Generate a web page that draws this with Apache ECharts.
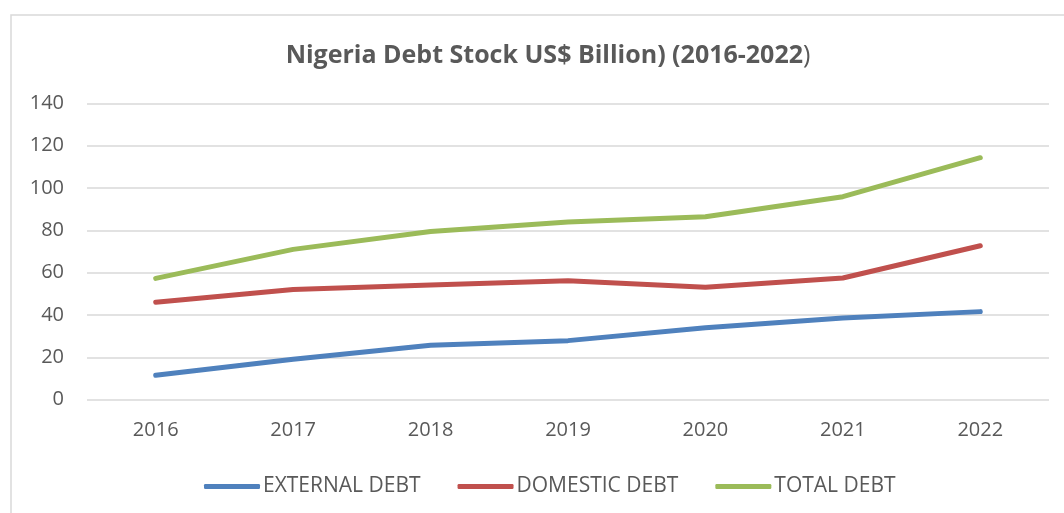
<!DOCTYPE html>
<html>
<head>
<meta charset="utf-8">
<script src="https://cdn.jsdelivr.net/npm/echarts@6/dist/echarts.min.js"></script>
<style>
  html, body { margin: 0; padding: 0; background: #fff; }
  #chart { width: 1064px; height: 513px; }
</style>
</head>
<body>
<div id="chart"></div>
<script>
// Nigeria debt stock, US$ billion
const years = ['2016', '2017', '2018', '2019', '2020', '2021', '2022'];
const externalDebt = [11.5, 19.1, 25.7, 27.9, 34.0, 38.6, 41.6];
const domesticDebt = [46.0, 52.1, 54.2, 56.2, 53.1, 57.5, 72.7];
const totalDebt = [57.3, 71.0, 79.4, 83.9, 86.4, 95.9, 114.3];
const yTicks = [0, 20, 40, 60, 80, 100, 120, 140];

const seriesNames = ['EXTERNAL DEBT', 'DOMESTIC DEBT', 'TOTAL DEBT'];
const seriesColors = ['#4f81bd', '#c0504d', '#9bbb59'];
const seriesData = [externalDebt, domesticDebt, totalDebt];

const font = '"Open Sans", "Noto Sans", sans-serif';
const chart = echarts.init(document.getElementById('chart'));

chart.setOption({
  animation: false,
  backgroundColor: '#ffffff',
  graphic: [{
    type: 'rect',
    shape: { x: 11, y: 15, width: 1100, height: 600 },
    style: { fill: 'none', stroke: '#d9d9d9', lineWidth: 1.5 },
    silent: true
  }],
  title: {
    text: '{b|Nigeria Debt Stock US$ Billion) (2016-2022}{n|)}',
    left: 543,
    top: 38,
    textAlign: 'center',
    textStyle: {
      rich: {
        b: { fontFamily: font, fontWeight: 'bold', fontSize: 25, color: '#595959' },
        n: { fontFamily: font, fontWeight: 'normal', fontSize: 25, color: '#595959' }
      }
    }
  },
  grid: { left: 87, right: 15, top: 103.3, bottom: 113.3, containLabel: false },
  legend: {
    data: seriesNames,
    top: 471,
    left: 199,
    itemWidth: 56,
    itemHeight: 5,
    itemGap: 37,
    icon: 'roundRect',
    textStyle: { fontFamily: font, fontSize: 21, color: '#595959', padding: [0, 0, 0, -2] }
  },
  xAxis: {
    type: 'category',
    data: years,
    boundaryGap: true,
    axisLine: { show: false },
    axisTick: { show: false },
    axisLabel: { fontFamily: font, fontSize: 20, color: '#595959', margin: 21 }
  },
  yAxis: {
    type: 'value',
    min: yTicks[0],
    max: yTicks[yTicks.length - 1],
    interval: 20,
    axisLine: { show: false },
    axisTick: { show: false },
    axisLabel: { fontFamily: font, fontSize: 20, color: '#595959', margin: 23 },
    splitLine: { lineStyle: { color: '#d9d9d9', width: 1.5 } }
  },
  series: seriesNames.map((name, i) => ({
    name: name,
    type: 'line',
    data: seriesData[i],
    symbol: 'none',
    smooth: false,
    lineStyle: { color: seriesColors[i], width: 5, cap: 'round', join: 'round' },
    itemStyle: { color: seriesColors[i] }
  }))
});
</script>
</body>
</html>
